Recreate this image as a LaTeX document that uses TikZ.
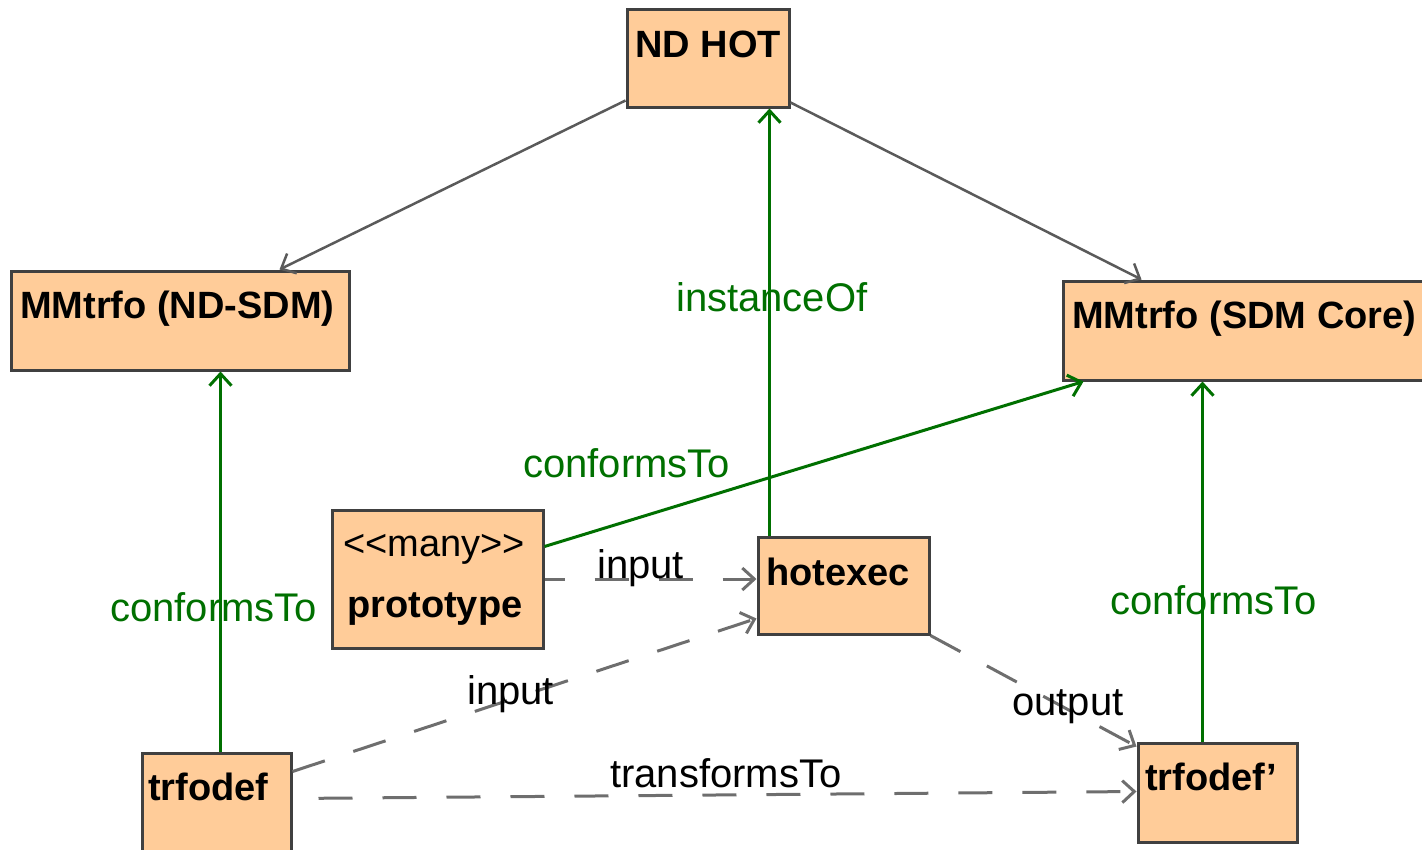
\documentclass[tikz,border=0pt]{standalone}
\usepackage{fontspec}
\setmainfont{Liberation Sans}
\usetikzlibrary{arrows.meta,calc}
\definecolor{boxfill}{HTML}{FFCC99}
\definecolor{boxline}{HTML}{404040}
\definecolor{relgreen}{HTML}{007000}
\definecolor{relgray}{HTML}{5A5A5A}
\definecolor{depgray}{HTML}{6E6E6E}
\begin{document}
\begin{tikzpicture}[x=1pt,y=-1pt,
  classbox/.style={draw=boxline, fill=boxfill, line width=3pt, inner sep=0pt},
  title/.style={anchor=base west, inner sep=0pt, font=\fontsize{38}{40}\selectfont\bfseries},
  stereo/.style={anchor=base west, inner sep=0pt, font=\fontsize{38}{40}\selectfont},
  lbl/.style={anchor=base west, inner sep=0pt, font=\fontsize{40}{42}\selectfont},
  greenlbl/.style={lbl, text=relgreen},
  vtip/.style={-{Straight Barb[length=12pt,width=22pt]}},
  assoc/.style={draw=relgray, line width=2.5pt, vtip},
  conforms/.style={draw=relgreen, line width=3pt, vtip},
  dep/.style={draw=depgray, line width=3pt, dash pattern=on 34pt off 30pt, vtip}]

\path[use as bounding box] (0,0) rectangle (1422,849);
\clip (0,0) rectangle (1422,849);

% class boxes
\node[classbox, minimum width=162pt, minimum height=98pt]  (ndhot)    at (708,58) {};
\node[classbox, minimum width=338pt, minimum height=99pt]  (ndsdm)    at (180,320.5) {};
\node[classbox, minimum width=369pt, minimum height=99pt]  (sdmcore)  at (1247.5,330.5) {};
\node[classbox, minimum width=211pt, minimum height=138pt] (proto)    at (437.5,579) {};
\node[classbox, minimum width=171pt, minimum height=97pt]  (hotexec)  at (843.5,585.5) {};
\node[classbox, minimum width=149pt, minimum height=107pt] (trfodef)  at (216.5,806.5) {};
\node[classbox, minimum width=159pt, minimum height=99pt]  (trfodefp) at (1217.5,792.5) {};

% class names
\node[title]  (tndhot)    at (635,57)   {ND HOT};
\node[title]  (tndsdm)    at (20,318)   {MMtrfo (ND-SDM)};
\node[title]  (tsdmcore)  at (1072,328) {MMtrfo (SDM Core)};
\node[stereo] (tmany)     at (343,556)  {<{}<many>{}>};
\node[title]  (tproto)    at (347,617)  {prototype};
\node[title]  (thotexec)  at (766,585)  {hotexec};
\node[title]  (ttrfodef)  at (148,800)  {trfodef};
\node[title]  (ttrfodefp) at (1145,790) {trfodef'};

% hierarchy from ND HOT
\draw[assoc] ([yshift=8pt]ndhot.south west) -- ([xshift=270pt]ndsdm.north west);
\draw[assoc] ([yshift=6pt]ndhot.south east) -- ([xshift=80pt]sdmcore.north west);

% instanceOf / conformsTo
\draw[conforms] ([xshift=13pt]hotexec.north west) -- ([xshift=13pt]hotexec.north west |- ndhot.south);
\draw[conforms] ([xshift=80pt]trfodef.north west) -- ([xshift=80pt]trfodef.north west |- ndsdm.south);
\draw[conforms] ([xshift=66pt]trfodefp.north west) -- ([xshift=66pt]trfodefp.north west |- sdmcore.south);
\draw[conforms] ([yshift=-38pt]proto.north east) -- ([xshift=22pt]sdmcore.south west);

% dependencies
\draw[dep, dash phase=14pt] (proto.east) -- (proto.east -| hotexec.west);
\draw[dep] ([yshift=-20pt]trfodef.north east) -- ([yshift=17pt]hotexec.south west);
\draw[dep] (hotexec.south east) -- ([yshift=-5pt]trfodefp.north west);
\draw[dep, dash phase=38pt] ([yshift=-47pt]trfodef.north east) -- ([yshift=-50pt]trfodefp.north west);

% relation labels
\node[greenlbl] (linst)   at (676,311)  {instanceOf};
\node[greenlbl] (lconfm)  at (523,477)  {conformsTo};
\node[greenlbl] (lconfl)  at (110,621)  {conformsTo};
\node[greenlbl] (lconfr)  at (1110,614) {conformsTo};
\node[lbl]      (linput1) at (597,578)  {input};
\node[lbl]      (linput2) at (467,704)  {input};
\node[lbl]      (loutput) at (1012,715) {output};
\node[lbl]      (ltrans)  at (610,787)  {transformsTo};
\end{tikzpicture}
\end{document}
